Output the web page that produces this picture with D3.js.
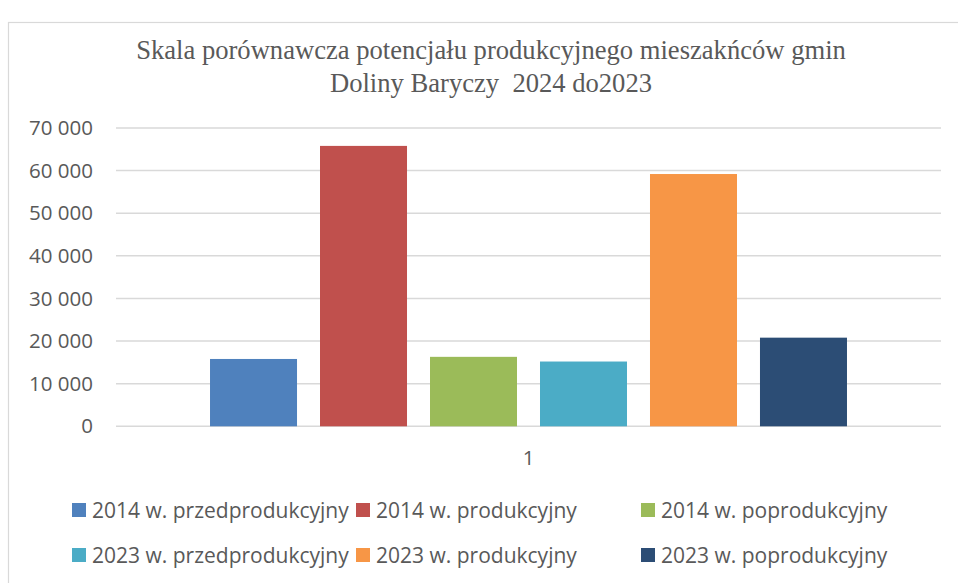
<!DOCTYPE html>
<html>
<head>
<meta charset="utf-8">
<script src="https://cdn.jsdelivr.net/npm/d3@7.9.0/dist/d3.min.js"></script>
<style>
  body { margin: 0; background: #fff; }
  svg { display: block; }
</style>
</head>
<body>
<svg id="chart"></svg>
<script>
// data
const categories = ["1"];
const seriesNames = [
    "2014 w. przedprodukcyjny", "2014 w. produkcyjny", "2014 w. poprodukcyjny",
    "2023 w. przedprodukcyjny", "2023 w. produkcyjny", "2023 w. poprodukcyjny"
];
const seriesValues = [15800, 65800, 16300, 15200, 59200, 20800];
const seriesColors = ["#4f81bd", "#c0504d", "#9bbb59", "#4bacc6", "#f79646", "#2c4d75"];
const yTicks = [0, 10000, 20000, 30000, 40000, 50000, 60000, 70000];
const titleLines = [
    "Skala porównawcza potencjału produkcyjnego mieszakńców gmin",
    "Doliny Baryczy  2024 do2023"
];

const width = 958, height = 583;
const margin = { top: 128, right: 17, bottom: 157, left: 116 };
const sansFont = "'Open Sans', Lato, sans-serif";

const svg = d3.select("#chart")
    .attr("width", width)
    .attr("height", height);

// chart frame
svg.append("rect")
    .attr("x", 8.5).attr("y", 22.5)
    .attr("width", 980).attr("height", 600)
    .attr("fill", "none")
    .attr("stroke", "#d9d9d9")
    .attr("stroke-width", 1.2);

// title
svg.append("g")
    .selectAll("text")
    .data(titleLines)
    .join("text")
    .attr("x", 491)
    .attr("y", (d, i) => 59 + i * 33)
    .attr("text-anchor", "middle")
    .style("white-space", "pre")
    .style("font-family", "'Liberation Serif', 'Times New Roman', serif")
    .style("font-size", "26.6px")
    .style("fill", "#595959")
    .text(d => d);

const y = d3.scaleLinear()
    .domain([0, 70000])
    .range([height - margin.bottom + 0.3, margin.top]);

const x0 = d3.scaleBand()
    .domain(categories)
    .range([margin.left, width - margin.right])
    .paddingInner(0)
    .paddingOuter(0.1476);

const x1 = d3.scaleBand()
    .domain(seriesNames)
    .range([0, x0.bandwidth()])
    .paddingInner(0.209)
    .paddingOuter(0);

const fmt = v => d3.format(",")(v).replace(/,/g, " ");

// gridlines
svg.append("g")
    .selectAll("line")
    .data(yTicks)
    .join("line")
    .attr("x1", margin.left)
    .attr("x2", width - margin.right)
    .attr("y1", d => y(d))
    .attr("y2", d => y(d))
    .attr("stroke", "#d9d9d9")
    .attr("stroke-width", 1.5);

// y axis labels
const yAxis = svg.append("g")
    .attr("transform", `translate(${margin.left - 23},0)`)
    .call(d3.axisLeft(y).tickValues(yTicks).tickFormat(fmt).tickSize(0).tickPadding(0));
yAxis.select(".domain").remove();
yAxis.selectAll("text")
    .style("font-family", sansFont)
    .style("font-size", "20.5px")
    .style("fill", "#595959");

// bars
svg.append("g")
    .selectAll("g")
    .data(categories)
    .join("g")
    .attr("transform", d => `translate(${x0(d)},0)`)
    .selectAll("rect")
    .data(() => seriesNames.map((name, i) => ({ name, value: seriesValues[i], color: seriesColors[i] })))
    .join("rect")
    .attr("x", d => x1(d.name))
    .attr("width", x1.bandwidth())
    .attr("y", d => y(d.value))
    .attr("height", d => y(0) - y(d.value))
    .attr("fill", d => d.color);

// category axis
const xAxis = svg.append("g")
    .attr("transform", `translate(0,${y(0) + 24})`)
    .call(d3.axisBottom(x0).tickSize(0).tickPadding(0));
xAxis.select(".domain").remove();
xAxis.selectAll("text")
    .style("font-family", sansFont)
    .style("font-size", "20.5px")
    .style("fill", "#595959");

// legend
const legendX = [72, 356, 641];
const legendY = [503, 548];
const legend = svg.append("g")
    .selectAll("g")
    .data(seriesNames)
    .join("g")
    .attr("transform", (d, i) => `translate(${legendX[i % 3]},${legendY[Math.floor(i / 3)]})`);

legend.append("rect")
    .attr("width", 14)
    .attr("height", 14)
    .attr("fill", (d, i) => seriesColors[i]);

legend.append("text")
    .attr("x", 20)
    .attr("y", 14.7)
    .style("font-family", sansFont)
    .style("font-size", "21px")
    .style("fill", "#595959")
    .text(d => d);
</script>
</body>
</html>
